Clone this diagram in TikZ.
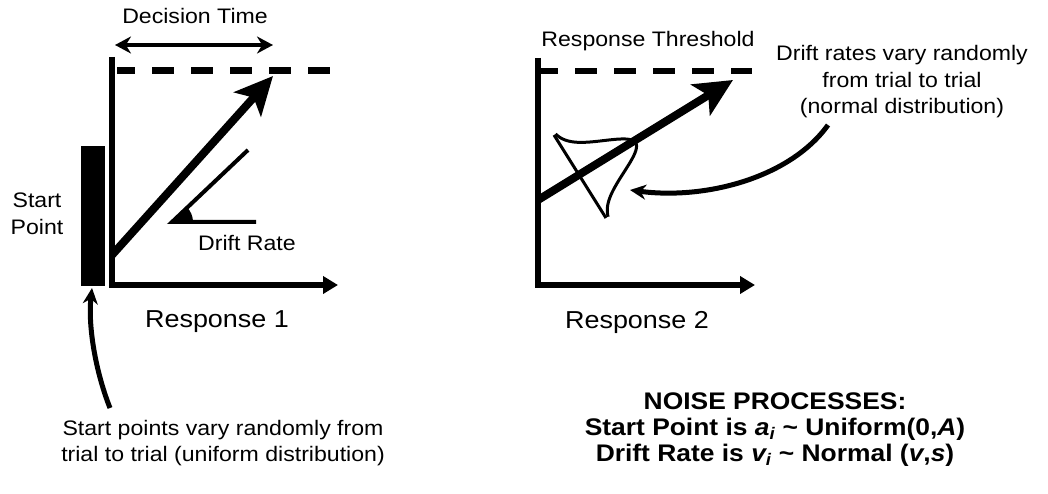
\documentclass[tikz,border=0pt]{standalone}
\usepackage{fontspec}
\setmainfont{Liberation Sans}[FakeStretch=1.1]
\usetikzlibrary{arrows.meta,calc}
\newcommand{\makeangle}[4]{
	\begin{scope}
	\path[clip] (#2) -- (#1) -- (#3) -- cycle;
	\fill (#1) circle (#4);
	\end{scope}
}
\tikzset{
	axis/.style={line width=5.5pt, -{Triangle[length=15pt,width=17pt]}},
	thres/.style={line width=7pt, dash pattern=on 22pt off 17pt, dash phase=4pt},
	lbl/.style={font=\fontsize{21}{26.5}\selectfont, align=center, inner sep=0pt},
	resp/.style={font=\fontsize{24.5}{29}\selectfont, inner sep=0pt},
	noise/.style={font=\bfseries\fontsize{24}{26}\selectfont, align=center, inner sep=0pt},
	curvearrow/.style={line width=5pt, -{Stealth[length=16pt,width=15pt]}}
}

\begin{document}
\begin{tikzpicture}[x=1pt,y=-1pt]
	\useasboundingbox (0,0) rectangle (1048,494);

	% left panel
	\coordinate (LT) at (112,57);
	\coordinate (LO) at (112,285);
	\coordinate (LX) at (338,285);
	\coordinate (LS) at (112,255);
	\coordinate (LE) at (273,76);
	\coordinate (DA) at (172,222);
	\coordinate (DB) at (248,150);
	\coordinate (DC) at (256,222);
	\coordinate (TL1) at (117,71);
	\coordinate (TL2) at (335,71);
	\coordinate (DT1) at (115,45);
	\coordinate (DT2) at (273,45);
	\coordinate (SPbase) at (92,288);
	\coordinate (SPfoot) at (110,408);

	\draw[axis] (LT) -- (LO) -- (LX);
	\draw[thres] (TL1) -- (TL2);
	\fill (81,146) rectangle (105,286);
	\draw[line width=8pt, -{Stealth[length=38pt,width=36pt,inset=9pt]}] (LS) -- (LE);
	\draw[line width=4pt] (DB) -- (DA) -- (DC);
	\makeangle{DA}{DB}{DC}{21}
	\draw[line width=4.5pt, {Stealth[length=16pt,width=17pt]}-{Stealth[length=16pt,width=17pt]}] (DT1) -- (DT2);
	\draw[curvearrow] (SPfoot) .. controls (95,370) and (88,325) .. (SPbase);

	\node[lbl] (dtime) at (195,16) {Decision Time};
	\node[lbl] (drate) at (247,243) {Drift Rate};
	\node[lbl] (spoint) at (37,214) {Start\\Point};
	\node[resp] (resp1) at (217,322) {Response 1};
	\node[lbl] (spvary) at (223,443) {Start points vary randomly from\\trial to trial (uniform distribution)};

	% right panel
	\coordinate (RT) at (538,58);
	\coordinate (RO) at (538,285);
	\coordinate (RX) at (755,285);
	\coordinate (RS) at (538,200);
	\coordinate (RE) at (733,80);
	\coordinate (TR1) at (540,71);
	\coordinate (TR2) at (752,71);
	\coordinate (BA) at (554,135);
	\coordinate (BB) at (606,218);
	\coordinate (DRfoot) at (828,125);
	\coordinate (DRtip) at (630,190);

	\draw[axis] (RT) -- (RO) -- (RX);
	\draw[thres, line width=6pt] (TR1) -- (TR2);
	\draw[line width=8pt, -{Stealth[length=38pt,width=36pt,inset=9pt]}] (RS) -- (RE);
	\draw[line width=3pt] (BA) -- (BB);
	\draw[line width=3pt] plot[domain=-49:49, samples=60, smooth]
		({580 + \x*0.531 + 65*exp(-(\x-1)*(\x-1)/700)*0.848},
		 {176.5 + \x*0.848 - 65*exp(-(\x-1)*(\x-1)/700)*0.531});
	\draw[curvearrow] (DRfoot) .. controls (790,178) and (705,200) .. (DRtip);

	\node[lbl] (thr) at (648,41) {Response Threshold};
	\node[lbl] (drvary) at (902,82) {Drift rates vary randomly\\from trial to trial\\(normal distribution)};
	\node[resp] (resp2) at (637,322) {Response 2};
	\node[noise] (noise) at (775,430) {NOISE PROCESSES:\\
		Start Point is \textit{a\textsubscript{i}} \textasciitilde{} Uniform(0,\textit{A})\\
		Drift Rate is \textit{v\textsubscript{i}} \textasciitilde{} Normal (\textit{v},\textit{s})};
\end{tikzpicture}
\end{document}
